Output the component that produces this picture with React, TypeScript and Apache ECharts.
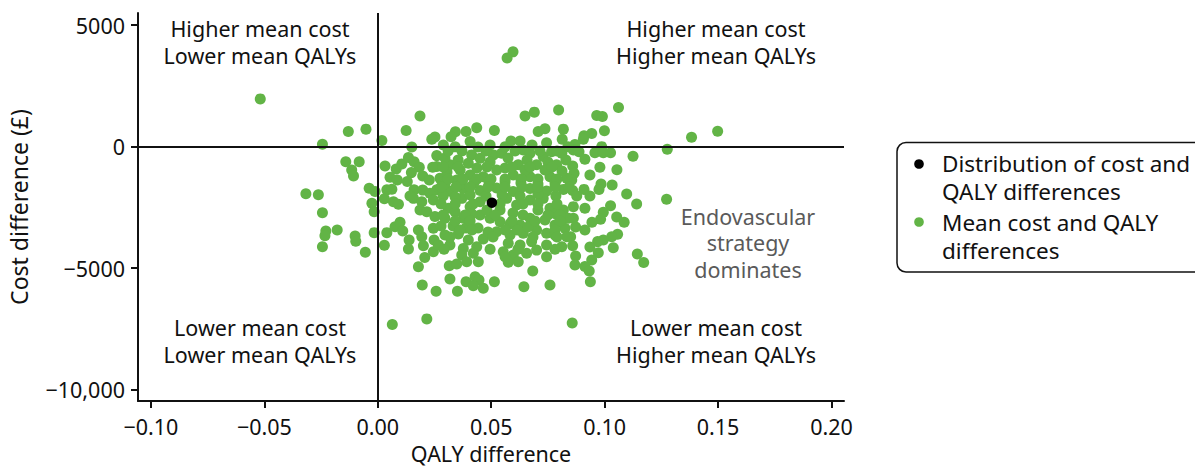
import React, { useEffect, useRef } from "react";
import * as echarts from "echarts";

// Axis ticks and visible ranges
const qalyTicks = [-0.1, -0.05, 0, 0.05, 0.1, 0.15, 0.2];
const costTicks = [-10000, -5000, 0, 5000];
const qalyRange = [-0.1057, 0.2055];
const costRange = [-10470, 5500];

// Overall mean difference (QALY, cost)
const meanDifference: [number, number][] = [[0.0503, -2310]];

// Replicated differences (QALY, cost £)
const replicateDifferences: [number, number][] = [
  [-0.0518, 1965], [0.0596, 3900], [0.057, 3650], [0.1061, 1610], [0.0965, 1280],
  [0.099, 1240], [0.0797, 1510], [0.069, 1420], [0.0649, 1260], [0.0186, 1260],
  [0.0125, 660], [-0.013, 620], [-0.0052, 720], [-0.0244, 100], [0.0018, 250],
  [0.1498, 630], [0.1383, 390], [0.1276, -110], [0.1273, -2170], [0.0999, 650],
  [0.0943, 540], [0.0909, 450], [0.0906, 300], [0.0869, 90], [0.0862, -140],
  [0.0887, -210], [0.0957, -250], [0.0987, 0], [0.0994, -250], [0.1026, -250],
  [0.1125, -400], [0.0913, -520], [0.0859, -800], [0.0865, -1100], [0.0855, -1370],
  [0.0979, -850], [0.1054, -950], [0.0984, -1540], [0.0975, -1760], [0.1033, -1580],
  [0.0909, -1760], [0.0859, -1810], [0.0935, -2030], [0.0877, -2030], [0.1097, -1950],
  [0.1141, -2360], [0.1026, -2430], [0.0994, -2700], [0.0982, -2990], [0.1053, -2900],
  [0.1086, -3110], [0.0913, -2540], [0.0862, -2470], [0.0862, -2950], [0.0872, -3310],
  [0.085, -3710], [0.1057, -3610], [0.1031, -3710], [0.0994, -3840], [0.0969, -3910],
  [0.1038, -4160], [0.0859, -4080], [0.0972, -4370], [0.0872, -4500], [0.0869, -4870],
  [0.0943, -4670], [0.0913, -4930], [0.0932, -5120], [0.0937, -5560], [0.1144, -4420],
  [0.1172, -4770],
  [0.0514, 660], [0.0436, 780], [0.0389, 620], [0.0342, 610], [0.0252, 400],
  [0.0323, 410], [0.0407, 210], [0.0587, 230], [0.0627, 230], [0.0707, 620],
  [0.0737, 740], [0.0818, 720], [0.0813, 300], [0.0744, 160], [0.0289, 70],
  [0.026, -370], [0.0414, -340], [0.0451, -480], [0.0509, -340], [0.0546, -270],
  [0.0641, -140], [0.0671, -270], [0.0729, -410], [0.0766, -210], [0.0811, -270],
  [0.0399, -680], [0.0318, -750], [0.026, -820], [0.0619, -750], [0.07, -750],
  [0.0788, -750], [0.0833, -1300], [0.0759, -1240], [0.0671, -1240], [0.0597, -1170],
  [0.0524, -960], [0.0465, -1240], [0.0407, -1170], [0.0348, -1370], [0.0274, -1300],
  [0.026, -1780], [0.0318, -1840], [0.0377, -1720], [0.0451, -1810], [0.0524, -1700],
  [0.0597, -1850], [0.0671, -1720], [0.0744, -1830], [0.0818, -1760], [0.0238, 300],
  [0.015, -20],
  [-0.0141, -620], [-0.0082, -620], [-0.0115, -960], [-0.0107, -1210], [0.0032, -800],
  [0.0081, -920], [0.0106, -710], [0.0135, -450], [0.016, -620], [0.0183, -850],
  [0.0148, -1070], [0.0054, -1260], [0.0086, -1370], [0.013, -1440], [0.0198, -1210],
  [0.0242, -850], [0.0227, -1370], [0.016, -1780], [0.0198, -1790], [-0.0038, -1710],
  [-0.0012, -1850], [0.004, -1780], [0.0062, -1750], [-0.0317, -1940], [-0.0262, -1980],
  [0.0142, -2030], [0.023, -1920],
  [-0.0026, -2330], [-0.0016, -2680], [0.0029, -2150], [0.0069, -2270], [0.0091, -2370],
  [0.0157, -2130], [0.0194, -2270], [0.0245, -2200], [0.0186, -2610], [0.0216, -2680],
  [0.0252, -2880], [-0.0244, -2720], [-0.0229, -3470], [-0.0233, -3670], [-0.0179, -3430],
  [-0.01, -3680], [-0.0097, -3890], [-0.0244, -4120], [-0.0055, -4350], [-0.0016, -3540],
  [0.004, -3540], [0.0029, -4060], [0.0076, -3300], [0.0098, -3110], [0.011, -3470],
  [0.0138, -3840], [0.0135, -4210], [0.0179, -3430], [0.0194, -3710], [0.0201, -4080],
  [0.0207, -4560], [0.0179, -4940], [0.0245, -4330], [0.0248, -3840], [0.0245, -3360],
  [0.0196, -5700], [0.0257, -5950],
  [0.0311, -2540], [0.037, -2130], [0.0407, -2470], [0.0451, -2270], [0.0451, -2810],
  [0.0377, -2950], [0.0568, -2130], [0.0612, -2400], [0.0671, -2200], [0.0729, -2130],
  [0.0759, -2540], [0.0818, -2610], [0.084, -2950], [0.0825, -3360], [0.0781, -3230],
  [0.0737, -3020], [0.0671, -2950], [0.0627, -3230], [0.0583, -3180], [0.0539, -3090],
  [0.0495, -2950], [0.0524, -3500], [0.0583, -3640], [0.0641, -3570], [0.07, -3430],
  [0.0744, -3570], [0.0833, -3710], [0.0296, -3640], [0.0355, -3600], [0.0399, -3840],
  [0.0465, -3800], [0.0436, -4120], [0.0377, -4190], [0.0318, -4050], [0.0267, -4050],
  [0.0575, -3980], [0.0627, -4050], [0.0678, -3910], [0.07, -4260], [0.0744, -4050],
  [0.0811, -4120], [0.0744, -4530], [0.0656, -4390], [0.0597, -4460], [0.0553, -4330],
  [0.0421, -4390], [0.037, -4460], [0.0392, -4740], [0.0443, -4740], [0.0575, -4760],
  [0.0619, -4740], [0.0315, -4900], [0.0348, -4830], [0.0683, -5120], [0.0318, -5450],
  [0.0389, -5560], [0.0429, -5360], [0.0446, -5490], [0.0421, -5730], [0.0465, -5830],
  [0.0514, -5560], [0.0644, -5770], [0.0759, -5700], [0.0351, -5950], [0.0064, -7320],
  [0.0216, -7090], [0.0857, -7260], [0.0561, -4530],
  [0.0341, -10], [0.0442, -20], [0.0495, 70], [0.0561, -10], [0.068, 70],
  [0.0838, -10], [0.0296, -470], [0.0354, -550], [0.0495, -630], [0.0574, -470],
  [0.0658, -550], [0.075, -630], [0.0829, -550], [0.0305, -1040], [0.0363, -960],
  [0.0437, -880], [0.0561, -880], [0.0649, -960], [0.0737, -960], [0.0812, -1000],
  [0.0296, -1540], [0.0367, -1540], [0.0424, -1500], [0.049, -1450], [0.0561, -1450],
  [0.0631, -1500], [0.0706, -1540], [0.0781, -1500], [0.0288, -2030], [0.0341, -2070],
  [0.0407, -1990], [0.0477, -2030], [0.0548, -1990], [0.0627, -2030], [0.0706, -1950],
  [0.0785, -2030], [0.0341, -2690], [0.0415, -2770], [0.0481, -2610], [0.0539, -2610],
  [0.0596, -2730], [0.0706, -2610], [0.0785, -2770], [0.0332, -3270], [0.0442, -3350],
  [0.0486, -3510], [0.0662, -3310], [0.0781, -3640], [0.0279, -3270], [0.0389, -3350],
  [0.0296, -2950],
  [0.031, -180], [0.0371, -180], [0.0477, -180], [0.0605, -180], [0.0715, -180],
  [0.079, -180], [0.0288, -840], [0.0354, -840], [0.0481, -840], [0.0592, -840],
  [0.0671, -840], [0.0768, -840], [0.031, -1330], [0.0376, -1330], [0.0437, -1330],
  [0.0499, -1330], [0.0561, -1330], [0.0631, -1330], [0.0706, -1330], [0.079, -1330],
  [0.0279, -1660], [0.0345, -1660], [0.0407, -1660], [0.0486, -1660], [0.0561, -1660],
  [0.0636, -1660], [0.0706, -1660], [0.0781, -1660], [0.0843, -1660], [0.0279, -2360],
  [0.0341, -2360], [0.042, -2360], [0.0539, -2360], [0.064, -2360], [0.0706, -2360],
  [0.079, -2360], [0.0288, -2810], [0.0385, -2810], [0.0517, -2810], [0.064, -2810],
  [0.075, -2810], [0.0803, -2810], [0.0341, -3060], [0.0407, -3060], [0.0592, -3060],
  [0.0693, -3060], [0.0803, -3060], [0.0363, -3430], [0.0415, -3430], [0.0561, -3430],
  [0.0614, -3430], [0.0781, -3430], [0.0318, -3720], [0.0508, -3720], [0.0684, -3720],
  [0.079, -3720], [0.0292, -4220], [0.0495, -4220], [0.0618, -4220], [0.0781, -4220],
  [0.0935, -1170], [0.0944, -3110], [0.0913, -3430], [0.0935, -4130],
];

// Text blocks
const quadrantTexts = [
  ["Higher mean cost", "Lower mean QALYs"],
  ["Higher mean cost", "Higher mean QALYs"],
  ["Lower mean cost", "Lower mean QALYs"],
  ["Lower mean cost", "Higher mean QALYs"],
];
const dominanceText = ["Endovascular", "strategy", "dominates"];
const legendTexts = [
  ["Distribution of cost and", "QALY differences"],
  ["Mean cost and QALY", "differences"],
];

const GREEN = "#62b446";
const INK = "#111111";
const FONT = "'Noto Sans', sans-serif";

const withMinus = (v: number, s: string) => (v < 0 ? "\u2212" + s : s);
const formatCost = (v: number) => {
  const a = Math.abs(v);
  const s = a >= 10000 ? a.toLocaleString("en-US") : String(a);
  return withMinus(v, s);
};
const formatQaly = (v: number) => withMinus(v, Math.abs(v).toFixed(2));

export default function App() {
  const ref = useRef<HTMLDivElement>(null);

  useEffect(() => {
    if (!ref.current) return;
    const chart = echarts.init(ref.current, undefined, { renderer: "svg" });

    const quadrantPos = [
      [260, 42],
      [716, 42],
      [260, 341],
      [716, 341],
    ];

    const graphic: any[] = quadrantTexts.map((lines, i) => ({
      type: "text",
      x: quadrantPos[i][0],
      y: quadrantPos[i][1],
      silent: true,
      style: {
        text: lines.join("\n"),
        fontSize: 21.5,
        fontFamily: FONT,
        fill: INK,
        align: "center",
        verticalAlign: "middle",
        lineHeight: 26.6,
      },
    }));

    graphic.push({
      type: "text",
      x: 748,
      y: 242.5,
      silent: true,
      style: {
        text: dominanceText.join("\n"),
        fontSize: 21.5,
        fontFamily: FONT,
        fill: "#5a5a5a",
        align: "center",
        verticalAlign: "middle",
        lineHeight: 26.5,
      },
    });

    // Legend box
    graphic.push({
      type: "rect",
      silent: true,
      shape: { x: 897, y: 142.5, width: 320, height: 129.5, r: 9 },
      style: { fill: "#fff", stroke: INK, lineWidth: 1.5 },
    });
    const legendColors = ["#000000", GREEN];
    const legendRows = [
      [164, 177],
      [222, 236],
    ];
    legendTexts.forEach((lines, i) => {
      graphic.push({
        type: "circle",
        silent: true,
        shape: { cx: 919, cy: legendRows[i][0], r: 4.8 },
        style: { fill: legendColors[i] },
      });
      graphic.push({
        type: "text",
        x: 942,
        y: legendRows[i][1],
        silent: true,
        style: {
          text: lines.join("\n"),
          fontSize: 22.5,
          fontFamily: FONT,
          fill: INK,
          align: "left",
          verticalAlign: "middle",
          lineHeight: 28,
        },
      });
    });

    chart.setOption({
      animation: false,
      textStyle: { fontFamily: FONT },
      grid: {
        left: 138,
        right: 351,
        top: 13,
        bottom: 67,
        containLabel: false,
        outerBoundsMode: "none",
      },
      xAxis: {
        type: "value",
        min: qalyRange[0],
        max: qalyRange[1],
        name: "QALY difference",
        nameLocation: "middle",
        nameGap: 42,
        nameTextStyle: { fontSize: 21.5, lineHeight: 21.5, color: INK, fontFamily: FONT },
        axisLine: { show: true, onZero: false, lineStyle: { color: INK, width: 2 } },
        axisTick: { show: true, length: 7, customValues: qalyTicks, lineStyle: { color: INK, width: 2 } },
        axisLabel: {
          customValues: qalyTicks,
          formatter: (v: number) => formatQaly(v),
          fontSize: 21.5,
          color: INK,
          margin: 14,
          fontFamily: FONT,
        },
        splitLine: { show: false },
      },
      yAxis: {
        type: "value",
        min: costRange[0],
        max: costRange[1],
        name: "Cost difference (\u00a3)",
        nameLocation: "middle",
        nameGap: 108,
        nameTextStyle: { fontSize: 23, color: INK, fontFamily: FONT },
        axisLine: { show: true, onZero: false, lineStyle: { color: INK, width: 2 } },
        axisTick: { show: true, length: 7, customValues: costTicks, lineStyle: { color: INK, width: 2 } },
        axisLabel: {
          customValues: costTicks,
          formatter: (v: number) => formatCost(v),
          fontSize: 21.5,
          color: INK,
          margin: 13,
          fontFamily: FONT,
        },
        splitLine: { show: false },
      },
      series: [
        {
          type: "line",
          data: [],
          z: 1,
          silent: true,
          markLine: {
            silent: true,
            symbol: ["none", "none"],
            label: { show: false },
            lineStyle: { color: INK, width: 2, type: "solid" },
            emphasis: { disabled: true },
            data: [{ xAxis: 0 }, { yAxis: 0 }],
          },
        },
        {
          name: "replicates",
          type: "scatter",
          z: 3,
          symbolSize: 11,
          itemStyle: { color: GREEN, opacity: 1 },
          emphasis: { disabled: true },
          data: replicateDifferences,
        },
        {
          name: "mean",
          type: "scatter",
          z: 4,
          symbolSize: 10.5,
          itemStyle: { color: "#000000", opacity: 1 },
          emphasis: { disabled: true },
          data: meanDifference,
        },
      ],
      graphic,
    });

    return () => chart.dispose();
  }, []);

  return (
    <div
      ref={ref}
      style={{ position: "absolute", left: 0, top: 0, width: 1195, height: 468, background: "#fff" }}
    />
  );
}
